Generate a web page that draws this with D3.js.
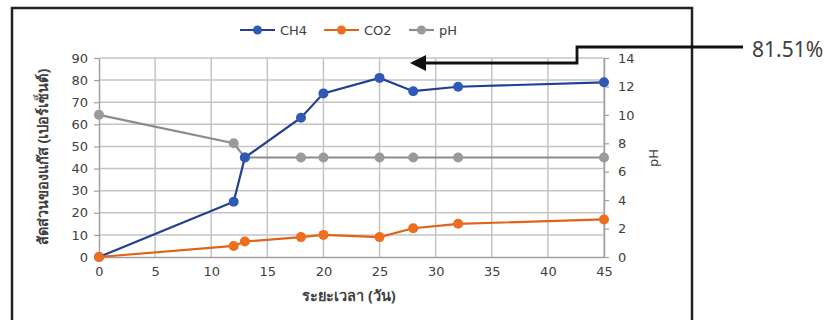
<!DOCTYPE html>
<html>
<head>
<meta charset="utf-8">
<script src="https://cdn.jsdelivr.net/npm/d3@7"></script>
<style>
  body { margin: 0; background: #fff; }
  svg { display: block; }
  text { font-family: "DejaVu Sans", "Noto Sans", sans-serif; fill: #404040; }
</style>
</head>
<body>
<div id="chart"></div>
<script>
// data
var days = [0, 12, 13, 18, 20, 25, 28, 32, 45];
var ch4 = [0, 25, 45, 63, 74, 81, 75, 77, 79];
var co2 = [0, 5, 7, 9, 10, 9, 13, 15, 17];
var ph = [10, 8, 7, 7, 7, 7, 7, 7, 7];
var xTicks = [0, 5, 10, 15, 20, 25, 30, 35, 40, 45];
var leftTicks = [0, 10, 20, 30, 40, 50, 60, 70, 80, 90];
var rightTicks = [0, 2, 4, 6, 8, 10, 12, 14];
var seriesNames = ["CH4", "CO2", "pH"];
var annotation = "81.51%";

var W = 838, H = 320;
var svg = d3.select("#chart").append("svg").attr("width", W).attr("height", H);

var x = d3.scaleLinear().domain([0, 45]).range([99, 604]);
var yL = d3.scaleLinear().domain([0, 90]).range([257, 58]);
var yR = d3.scaleLinear().domain([0, 14]).range([257, 58]);

// frame
svg.append("rect").attr("x", 12).attr("y", 8).attr("width", 680).attr("height", 330)
   .attr("fill", "none").attr("stroke", "#222").attr("stroke-width", 2.5);

// grid
svg.append("g").selectAll("line").data(xTicks.slice(1)).enter().append("line")
   .attr("x1", function(d) { return x(d); }).attr("x2", function(d) { return x(d); })
   .attr("y1", yL(0)).attr("y2", yL(90))
   .attr("stroke", "#c4c4c4").attr("stroke-width", 1.5);
svg.append("g").selectAll("line").data(leftTicks.slice(1)).enter().append("line")
   .attr("x1", x(0)).attr("x2", x(45))
   .attr("y1", function(d) { return yL(d); }).attr("y2", function(d) { return yL(d); })
   .attr("stroke", "#c4c4c4").attr("stroke-width", 1.5);

// axes
function styleAxis(g) {
  g.select(".domain").attr("stroke", "#a0a0a0").attr("stroke-width", 1.5);
  g.selectAll(".tick line").attr("stroke", "#a0a0a0").attr("stroke-width", 1.2);
  g.selectAll(".tick text").attr("font-size", 13).attr("fill", "#404040")
   .style("font-family", "DejaVu Sans, sans-serif");
}
svg.append("g").attr("transform", "translate(0," + yL(0) + ")")
   .call(d3.axisBottom(x).tickValues(xTicks).tickSize(0).tickPadding(10).tickSizeOuter(0))
   .call(styleAxis);
svg.append("g").attr("transform", "translate(" + x(0) + ",0)")
   .call(d3.axisLeft(yL).tickValues(leftTicks).tickSize(5).tickPadding(6).tickSizeOuter(0))
   .call(styleAxis);
svg.append("g").attr("transform", "translate(" + x(45) + ",0)")
   .call(d3.axisRight(yR).tickValues(rightTicks).tickSize(5).tickPadding(9).tickSizeOuter(0))
   .call(styleAxis);

// axis titles
svg.append("text").attr("transform", "translate(48,157) rotate(-90)")
   .attr("text-anchor", "middle").attr("font-size", 14.5).attr("font-weight", "bold")
   .style("font-family", "Noto Sans, DejaVu Sans, sans-serif")
   .text("สัดส่วนของแก๊ส (เปอร์เซ็นต์)");
svg.append("text").attr("x", 349).attr("y", 301)
   .attr("text-anchor", "middle").attr("font-size", 14.5).attr("font-weight", "bold")
   .style("font-family", "Noto Sans, DejaVu Sans, sans-serif")
   .text("ระยะเวลา (วัน)");
svg.append("text").attr("transform", "translate(658,158) rotate(-90)")
   .attr("text-anchor", "middle").attr("font-size", 13)
   .text("pH");

// series
var series = [
  { name: seriesNames[0], values: ch4, y: yL, line: "#213f93", dot: "#2f59b4" },
  { name: seriesNames[1], values: co2, y: yL, line: "#e0631a", dot: "#ec6e1e" },
  { name: seriesNames[2], values: ph, y: yR, line: "#8c8c8c", dot: "#9a9a9a" }
];
// gray at the bottom, orange on top
[series[2], series[0], series[1]].forEach(function(s) {
  var pts = days.map(function(d, i) { return [x(d), s.y(s.values[i])]; });
  svg.append("path").datum(pts).attr("d", d3.line())
     .attr("fill", "none").attr("stroke", s.line).attr("stroke-width", 2.2);
  svg.append("g").selectAll("circle").data(pts).enter().append("circle")
     .attr("cx", function(p) { return p[0]; }).attr("cy", function(p) { return p[1]; })
     .attr("r", 5).attr("fill", s.dot);
});

// legend
var legX = [240, 324, 409];
series.forEach(function(s, i) {
  var g = svg.append("g").attr("transform", "translate(" + legX[i] + ",30)");
  var len = i == 2 ? 25 : 35;
  g.append("line").attr("x1", 0).attr("x2", len).attr("stroke", s.line).attr("stroke-width", 2.2);
  g.append("circle").attr("cx", len / 2).attr("r", 4.5).attr("fill", s.dot);
  g.append("text").attr("x", len + 5).attr("y", 5).attr("font-size", 13).text(s.name);
});

// annotation arrow
svg.append("path")
   .attr("d", "M743,47 H577 V63 H424")
   .attr("fill", "none").attr("stroke", "#111").attr("stroke-width", 2.8);
svg.append("path").attr("d", "M410,63 L426,55 L426,71 Z").attr("fill", "#111");
svg.append("text").attr("x", 752).attr("y", 57).attr("font-size", 21)
   .style("font-family", "Noto Sans, sans-serif").attr("fill", "#333")
   .text(annotation);
</script>
</body>
</html>
